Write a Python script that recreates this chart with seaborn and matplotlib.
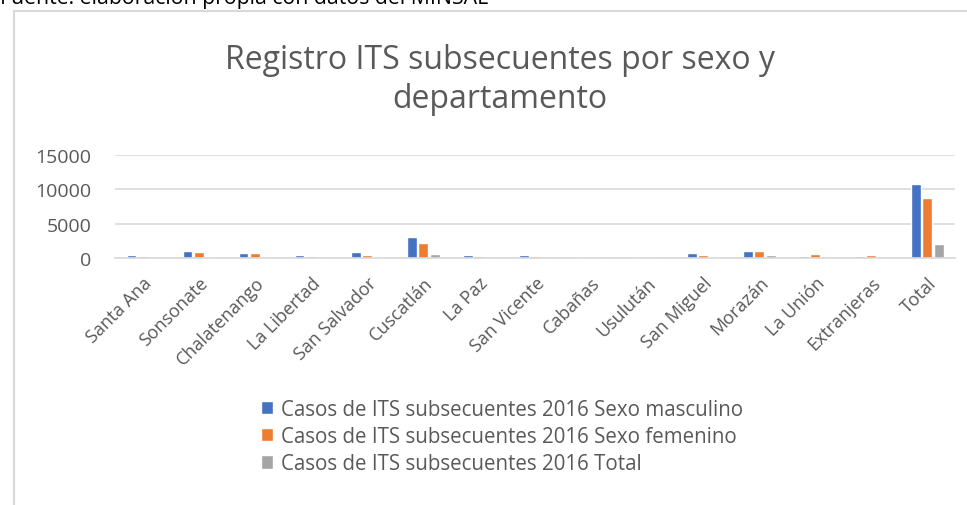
import pandas as pd
import seaborn as sns
import matplotlib.pyplot as plt
from matplotlib.patches import Rectangle

# Datos
departamentos = ["Santa Ana", "Sonsonate", "Chalatenango", "La Libertad", "San Salvador",
                 "Cuscatlán", "La Paz", "San Vicente", "Cabañas", "Usulután",
                 "San Miguel", "Morazán", "La Unión", "Extranjeras", "Total"]
masculino = [400, 1000, 750, 400, 950, 3000, 400, 450, 150, 150, 700, 1100, 300, 300, 10700]
femenino = [250, 850, 700, 250, 500, 2200, 300, 250, 150, 150, 500, 1000, 650, 450, 8800]
total = [50, 100, 100, 50, 100, 650, 50, 50, 50, 50, 100, 450, 50, 50, 2100]

series = ["Casos de ITS subsecuentes 2016 Sexo masculino",
          "Casos de ITS subsecuentes 2016 Sexo femenino",
          "Casos de ITS subsecuentes 2016 Total"]
colores = ["#4472C4", "#ED7D31", "#A5A5A5"]

df = pd.DataFrame({"departamento": departamentos * 3,
                   "serie": [series[0]] * 15 + [series[1]] * 15 + [series[2]] * 15,
                   "casos": masculino + femenino + total})

sns.set_style("white")
plt.rcParams['font.family'] = ['Open Sans', 'DejaVu Sans']
gris = "#595959"

fig = plt.figure(figsize=(9.67, 5.06), dpi=100)
ax = fig.add_axes([0.119, 0.488, 0.869, 0.204])

sns.barplot(data=df, x="departamento", y="casos", hue="serie", palette=colores,
            saturation=1, width=0.62, gap=0.15, ax=ax, legend=True)

ax.set_ylim(0, 15000)
ax.set_yticks([0, 5000, 10000, 15000])
ax.set_xlim(-0.5, 14.5)
ax.yaxis.grid(True, color="#D9D9D9", linewidth=1.2)
ax.set_axisbelow(True)
for s in ["top", "right", "left"]:
    ax.spines[s].set_visible(False)
ax.spines["bottom"].set_color("#D9D9D9")
ax.spines["bottom"].set_linewidth(1.2)
ax.tick_params(axis="both", length=0, colors=gris, labelsize=14)
ax.tick_params(axis="y", pad=17)
ax.tick_params(axis="x", pad=11)
plt.setp(ax.get_xticklabels(), rotation=45, ha="right", rotation_mode="anchor", fontsize=13)
ax.set_xlabel("")
ax.set_ylabel("")

# Leyenda debajo del gráfico
handles, labels = ax.get_legend_handles_labels()
ax.legend_.remove()
fig.legend(handles, labels, loc="upper center", bbox_to_anchor=(0.519, 0.23),
           frameon=False, fontsize=14.8, labelcolor=gris,
           handlelength=0.6, handleheight=0.6, handletextpad=0.35,
           labelspacing=0.3, borderpad=0)

fig.text(0.517, 0.842, "Registro ITS subsecuentes por sexo y\ndepartamento",
         ha="center", va="center", fontsize=23, color=gris, linespacing=1.25)

fig.text(0.0, 1 - 4 / 506, "Fuente: elaboración propia con datos del MINSAL",
         ha="left", va="baseline", fontsize=15.3, color="black")

# Marco del área del gráfico
fig.patches.append(Rectangle((14 / 967, -0.1), 1.1, 1 - 12 / 506 + 0.1,
                             transform=fig.transFigure, fill=False,
                             edgecolor="#D9D9D9", linewidth=1.5))

fig.savefig("out.png", dpi=100)
